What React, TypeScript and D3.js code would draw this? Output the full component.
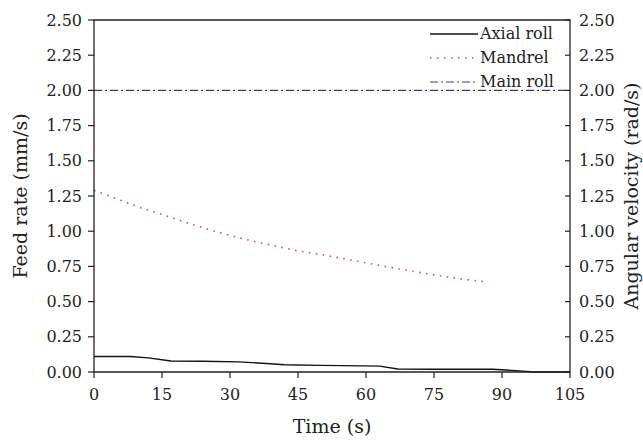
import React from 'react';
import * as d3 from 'd3';

// readings (time in s, feed rate in mm/s)
const axialTime = [0, 8, 12, 17, 24, 32, 38, 42, 50, 55, 63, 67, 75, 88, 93, 97, 105];
const axialRate = [0.11, 0.11, 0.1, 0.078, 0.076, 0.072, 0.06, 0.052, 0.047, 0.045, 0.042, 0.021, 0.02, 0.02, 0.01, 0, 0];

const mandrelTime = [0, 5, 10, 15, 20, 25, 30, 35, 40, 45, 50, 55, 60, 65, 70, 75, 80, 85, 87];
const mandrelRate = [1.29, 1.23, 1.17, 1.12, 1.065, 1.015, 0.97, 0.93, 0.895, 0.86, 0.835, 0.805, 0.775, 0.745, 0.717, 0.69, 0.665, 0.645, 0.64];

const mainTime = [0, 105];
const mainSpeed = [2.0, 2.0];

const xTicks = [0, 15, 30, 45, 60, 75, 90, 105];
const yTicks = [0, 0.25, 0.5, 0.75, 1.0, 1.25, 1.5, 1.75, 2.0, 2.25, 2.5];

const legendNames = ['Axial roll', 'Mandrel', 'Main roll'];

const W = 643, H = 444;
const margin = { left: 94, right: 73, top: 20, bottom: 72 };
const font = '"DejaVu Serif", serif';
const ink = '#222';

const styles = [
    { stroke: '#111', dash: undefined, width: 1.4 },
    { stroke: '#c9595c', dash: '1.6 5.4', width: 1.6 },
    { stroke: '#3a3a8c', dash: '8 3 2 3', width: 1.2 },
];

export default function App() {
    const x = d3.scaleLinear().domain([0, 105]).range([margin.left, W - margin.right]);
    const y = d3.scaleLinear().domain([0, 2.5]).range([H - margin.bottom, margin.top]);
    const line = d3.line<[number, number]>().x(d => x(d[0])).y(d => y(d[1]));

    const series = [
        axialTime.map((t, i) => [t, axialRate[i]] as [number, number]),
        mandrelTime.map((t, i) => [t, mandrelRate[i]] as [number, number]),
        mainTime.map((t, i) => [t, mainSpeed[i]] as [number, number]),
    ];

    const x0 = x(0), x1 = x(105), y0 = y(0), y1 = y(2.5);
    const cy = (y0 + y1) / 2;

    return (
        <svg width={W} height={H} style={{ position: 'absolute', left: 0, top: 0, background: '#fff' }}
             fontFamily={font}>
            {series.map((d, i) => (
                <path key={i} d={line(d) || ''} fill="none" stroke={styles[i].stroke}
                      strokeWidth={styles[i].width} strokeDasharray={styles[i].dash}/>
            ))}

            {/* frame */}
            <path d={`M${x0},${y1}H${x1}V${y0}H${x0}Z`} fill="none" stroke={ink} strokeWidth={1.3}/>

            {/* bottom axis */}
            {xTicks.map(t => (
                <g key={t} transform={`translate(${x(t)},${y0})`}>
                    <line y2={6} stroke={ink} strokeWidth={1.2}/>
                    <text y={28} textAnchor="middle" fontSize={16} fill={ink}>{t}</text>
                </g>
            ))}

            {/* left axis */}
            {yTicks.map(t => (
                <g key={t} transform={`translate(${x0},${y(t)})`}>
                    <line x2={-6} stroke={ink} strokeWidth={1.2}/>
                    <text x={-12} dy="0.35em" textAnchor="end" fontSize={16} fill={ink}>{t.toFixed(2)}</text>
                </g>
            ))}

            {/* right axis */}
            {yTicks.map(t => (
                <g key={t} transform={`translate(${x1},${y(t)})`}>
                    <line x2={-5} stroke={ink} strokeWidth={1.2}/>
                    <text x={9} dy="0.35em" fontSize={16} fill={ink}>{t.toFixed(2)}</text>
                </g>
            ))}

            <text transform={`translate(27,${cy}) rotate(-90)`} textAnchor="middle" fontSize={19} fill={ink}>
                Feed rate (mm/s)
            </text>
            <text transform={`translate(638,${cy}) rotate(-90)`} textAnchor="middle" fontSize={19} fill={ink}>
                Angular velocity (rad/s)
            </text>
            <text x={(x0 + x1) / 2} y={433} textAnchor="middle" fontSize={19} fill={ink}>Time (s)</text>

            {/* legend */}
            {legendNames.map((name, i) => (
                <g key={name} transform={`translate(430,${34 + i * 24})`}>
                    <line x2={48} stroke={styles[i].stroke} strokeWidth={styles[i].width}
                          strokeDasharray={styles[i].dash}/>
                    <text x={50} y={5} fontSize={16} fill={ink}>{name}</text>
                </g>
            ))}
        </svg>
    );
}
